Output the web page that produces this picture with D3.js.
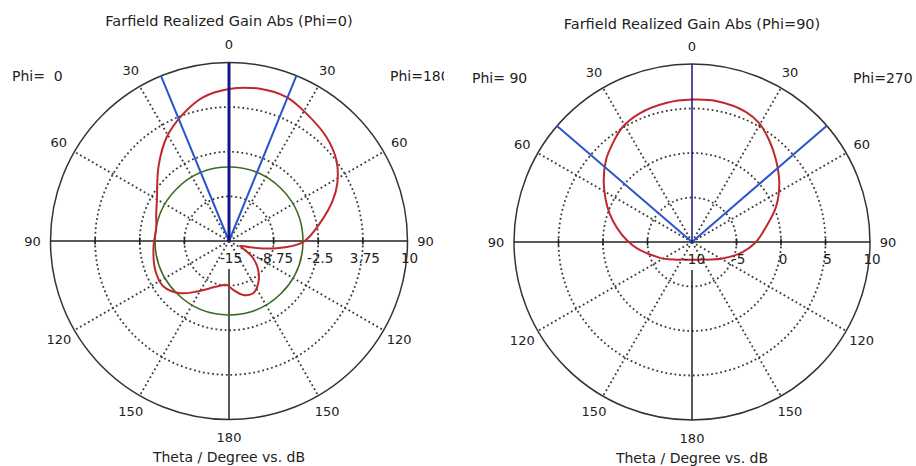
<!DOCTYPE html>
<html>
<head>
<meta charset="utf-8">
<script src="https://cdn.jsdelivr.net/npm/d3@7"></script>
<style>
  body { margin: 0; background: #fff; }
  svg { display: block; font-family: "DejaVu Sans", sans-serif; }
</style>
</head>
<body>
<svg id="chart" width="916" height="466"></svg>
<script>
//data: angle clockwise from top (deg), gain (dB)
const phi0Angle = [0, 11.5, 21.8, 31.3, 43.1, 53, 62, 68.5, 79, 90.8, 98.7, 106.7, 114, 119.4, 125.4,
  134.7, 145.3, 155.1, 165.2, 175, 183, 195, 212.5, 223.1, 235.2, 248.6, 265.7, 280, 290, 299.6,
  316.4, 329.1, 340.3, 349.9];
const phi0Gain = [6.3, 6.76, 6.7, 5.88, 4.96, 3.83, 2.18, 0.64, -2.05, -4.62, -8.27, -11.94, -13.31, -12.43, -10.84,
  -9.25, -7.81, -6.94, -7.19, -8.13, -8.84, -8.39, -6.61, -4.99, -3.83, -3.9, -4.4, -4.65, -4.15, -3.39,
  -0.67, 1.97, 3.94, 5.47];

const phi90Angle = [0, 9.7, 22.6, 29.6, 37.2, 45.7, 56.1, 67.4, 78.5, 90, 101.2, 118.5, 135, 150, 180, 210, 225,
  244.5, 266.8, 285.3, 300.5, 313.5, 322.6, 328.9, 337.7, 349.4];
const phi90Gain = [6.0, 6.07, 5.82, 5.33, 4.35, 3.19, 1.82, 0.22, -1.52, -2.81, -4.2, -6.09, -7.2, -7.72, -8.0, -7.72, -7.2,
  -5.93, -3.31, -0.75, 1.44, 3.33, 4.38, 5.09, 5.6, 5.89];

//ring labels
const phi0RingLabels = ["-15", "-8.75", "-2.5", "3.75", "10"];
const phi90RingLabels = ["-10", "-5", "0", "5", "10"];

//theta labels every 30 deg, clockwise from top
const thetaLabels = ["0", "30", "60", "90", "120", "150", "180", "150", "120", "90", "60", "30"];

//main lobe + beam lines
const phi0Main = 0;
const phi0Beam = [-22.4, 22.2];
const phi0Threshold = -4.64;
const phi90Main = 0;
const phi90Beam = [-49.3, 49.2];

const svg = d3.select("#chart");

svg.append("clipPath").attr("id", "leftClip")
  .append("rect").attr("x", 0).attr("y", 0).attr("width", 444).attr("height", 466);

drawPolar({
  cx: 229, cy: 241, R: 178.5, clip: "url(#leftClip)",
  domain: [-15, 10], ringLabels: phi0RingLabels,
  angles: phi0Angle, gains: phi0Gain,
  main: phi0Main, mainWidth: 3, beam: phi0Beam, threshold: phi0Threshold,
  title: "Farfield Realized Gain Abs (Phi=0)", titleY: 21,
  phiLeft: "Phi=  0", phiLeftX: 12, phiRight: "Phi=180", phiRightX: 390, phiY: 76,
});

drawPolar({
  cx: 692, cy: 242, R: 178, clip: null,
  domain: [-10, 10], ringLabels: phi90RingLabels,
  angles: phi90Angle, gains: phi90Gain,
  main: phi90Main, mainWidth: 1.5, beam: phi90Beam, threshold: null,
  title: "Farfield Realized Gain Abs (Phi=90)", titleY: 24,
  phiLeft: "Phi= 90", phiLeftX: 472, phiRight: "Phi=270", phiRightX: 853, phiY: 78,
});

function drawPolar(o) {
  const rad = (d) => (d * Math.PI) / 180;
  const root = svg.append("g").attr("clip-path", o.clip);
  const g = root.append("g").attr("transform", `translate(${o.cx},${o.cy})`);

  const r = d3.scaleLinear().domain(o.domain).range([0, o.R]);
  const ringVals = d3.range(5).map((i) => o.domain[0] + ((o.domain[1] - o.domain[0]) * i) / 4);

  //dotted rings
  g.selectAll("circle.ring")
    .data(ringVals.slice(1, 4))
    .join("circle")
    .attr("class", "ring")
    .attr("r", (d) => r(d))
    .attr("fill", "none")
    .attr("stroke", "#3a3a3a")
    .attr("stroke-width", 1.8)
    .attr("stroke-dasharray", "1.8,2.8");

  //dotted spokes
  g.selectAll("line.spoke")
    .data([30, 60, 120, 150, 210, 240, 300, 330])
    .join("line")
    .attr("class", "spoke")
    .attr("x1", 0).attr("y1", 0)
    .attr("x2", (d) => o.R * Math.sin(rad(d)))
    .attr("y2", (d) => -o.R * Math.cos(rad(d)))
    .attr("stroke", "#3a3a3a")
    .attr("stroke-width", 1.8)
    .attr("stroke-dasharray", "1.8,2.8");

  //outer circle
  g.append("circle").attr("r", o.R).attr("fill", "none")
    .attr("stroke", "#333").attr("stroke-width", 1.5);

  //axes
  g.append("line").attr("x1", -o.R).attr("x2", o.R).attr("y1", 0).attr("y2", 0)
    .attr("stroke", "#222").attr("stroke-width", 1.5);
  g.append("line").attr("x1", 0).attr("x2", 0).attr("y1", 28).attr("y2", o.R)
    .attr("stroke", "#222").attr("stroke-width", 1.5);

  //ticks on horizontal axis
  const tickPos = ringVals.slice(1, 4).flatMap((d) => [r(d), -r(d)]);
  g.selectAll("line.tick")
    .data(tickPos)
    .join("line")
    .attr("class", "tick")
    .attr("x1", (d) => d).attr("x2", (d) => d)
    .attr("y1", -3.5).attr("y2", 3.5)
    .attr("stroke", "#222").attr("stroke-width", 1.5);

  //threshold circle
  if (o.threshold != null) {
    g.append("circle").attr("r", r(o.threshold)).attr("fill", "none")
      .attr("stroke", "#3d6a22").attr("stroke-width", 1.6);
  }

  //pattern
  const pts = o.angles.map((a, i) => [a, o.gains[i]]);
  const line = d3.lineRadial()
    .angle((d) => rad(d[0]))
    .radius((d) => r(d[1]))
    .curve(d3.curveCatmullRomClosed.alpha(0.5));
  g.append("path").attr("d", line(pts)).attr("fill", "none")
    .attr("stroke", "#c0282c").attr("stroke-width", 2);

  //beam lines
  g.selectAll("line.beam")
    .data(o.beam)
    .join("line")
    .attr("class", "beam")
    .attr("x1", 0).attr("y1", 0)
    .attr("x2", (d) => o.R * Math.sin(rad(d)))
    .attr("y2", (d) => -o.R * Math.cos(rad(d)))
    .attr("stroke", "#2a55cc").attr("stroke-width", 2);

  g.append("line")
    .attr("x1", 0).attr("y1", 0)
    .attr("x2", o.R * Math.sin(rad(o.main)))
    .attr("y2", -o.R * Math.cos(rad(o.main)))
    .attr("stroke", "#14148c").attr("stroke-width", o.mainWidth);

  //ring labels
  g.selectAll("text.ringlab")
    .data(ringVals)
    .join("text")
    .attr("class", "ringlab")
    .attr("x", (d) => r(d) + 2)
    .attr("y", 17)
    .attr("text-anchor", "middle")
    .attr("dominant-baseline", "central")
    .attr("font-size", 13.5)
    .attr("fill", "#222")
    .text((d, i) => o.ringLabels[i]);

  //theta labels
  g.selectAll("text.theta")
    .data(thetaLabels)
    .join("text")
    .attr("class", "theta")
    .attr("x", (d, i) => (o.R + 18) * Math.sin(rad(i * 30)))
    .attr("y", (d, i) => -(o.R + 18) * Math.cos(rad(i * 30)))
    .attr("text-anchor", "middle")
    .attr("dominant-baseline", "central")
    .attr("font-size", 13)
    .attr("fill", "#222")
    .text((d) => d);

  //titles
  root.append("text")
    .attr("x", o.cx).attr("y", o.titleY)
    .attr("text-anchor", "middle").attr("dominant-baseline", "central")
    .attr("font-size", 14.5).attr("fill", "#222")
    .text(o.title);

  root.append("text")
    .attr("x", o.cx).attr("y", o.cy + 216)
    .attr("text-anchor", "middle").attr("dominant-baseline", "central")
    .attr("font-size", 14).attr("fill", "#222")
    .text("Theta / Degree vs. dB");

  root.selectAll("text.phi")
    .data([[o.phiLeft, o.phiLeftX], [o.phiRight, o.phiRightX]])
    .join("text")
    .attr("class", "phi")
    .attr("x", (d) => d[1]).attr("y", o.phiY)
    .attr("dominant-baseline", "central")
    .attr("font-size", 14).attr("fill", "#222")
    .style("white-space", "pre")
    .text((d) => d[0]);
}
</script>
</body>
</html>
